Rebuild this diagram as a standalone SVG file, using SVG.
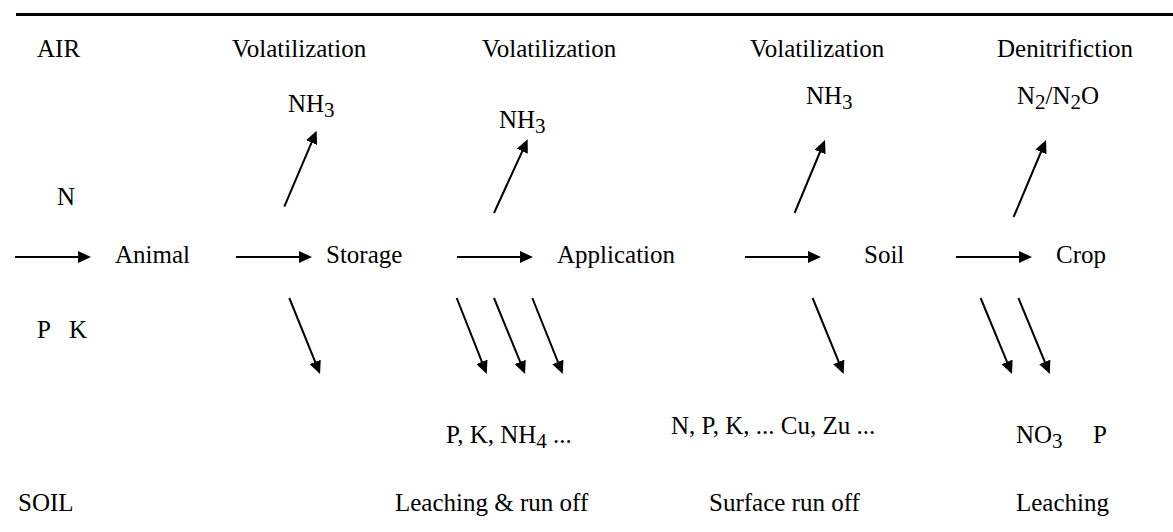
<svg xmlns="http://www.w3.org/2000/svg" width="1173" height="532" viewBox="0 0 1173 532" font-family="Liberation Serif, Tinos, Times New Roman, DejaVu Serif, serif">
<style>
text{font-family:"Liberation Serif",Tinos,"Times New Roman","DejaVu Serif",serif;font-size:25px;fill:#000}
.sub{font-size:21px}
.arr{stroke:#000;stroke-width:2;fill:none;marker-end:url(#ah)}
</style>
<defs>
<marker id="ah" viewBox="0 0 13 12" refX="7" refY="6" markerWidth="13" markerHeight="12" markerUnits="userSpaceOnUse" orient="auto">
<path d="M0,0 L13,6 L0,12 z" fill="#000"/>
</marker>
</defs>
<rect width="1173" height="532" fill="#fff"/>
<line x1="16" y1="14.5" x2="1173" y2="14.5" stroke="#000" stroke-width="3"/>
<g id="labels-top">
<text x="37" y="57">AIR</text>
<text x="232" y="57">Volatilization</text>
<text x="482" y="57">Volatilization</text>
<text x="750" y="57">Volatilization</text>
<text x="997" y="57">Denitrifiction</text>
</g>
<g id="gas-1"><text x="288" y="112">NH<tspan class="sub" dy="5">3</tspan></text></g>
<g id="gas-2"><text x="499" y="128">NH<tspan class="sub" dy="5">3</tspan></text></g>
<g id="gas-3"><text x="806" y="104">NH<tspan class="sub" dy="5">3</tspan></text></g>
<g id="gas-4"><text x="1017" y="104">N<tspan class="sub" dy="5">2</tspan><tspan dy="-5">/N</tspan><tspan class="sub" dy="5">2</tspan><tspan dy="-5">O</tspan></text></g>
<g id="input-n"><text x="57" y="205">N</text></g>
<g id="input-pk"><text x="37" y="338">P</text><text x="69" y="338">K</text></g>
<g id="node-animal"><text x="115" y="263">Animal</text></g>
<g id="node-storage"><text x="326" y="263">Storage</text></g>
<g id="node-application"><text x="557" y="263">Application</text></g>
<g id="node-soil"><text x="864" y="263">Soil</text></g>
<g id="node-crop"><text x="1056" y="263">Crop</text></g>
<g id="loss-1"><text x="446" y="443">P, K, NH<tspan class="sub" dy="5">4</tspan><tspan dy="-5"> ...</tspan></text></g>
<g id="loss-2"><text x="671" y="434">N, P, K, ... Cu, Zu ...</text></g>
<g id="loss-3"><text x="1016" y="443">NO<tspan class="sub" dy="5">3</tspan></text><text x="1093" y="443">P</text></g>
<g id="labels-bottom">
<text x="18" y="511">SOIL</text>
<text x="395" y="511">Leaching &amp; run off</text>
<text x="709" y="511">Surface run off</text>
<text x="1016" y="511">Leaching</text>
</g>
<g id="connectors">
<line class="arr" x1="15" y1="257" x2="85" y2="257"/>
<line class="arr" x1="236" y1="257" x2="306" y2="257"/>
<line class="arr" x1="457" y1="257" x2="527" y2="257"/>
<line class="arr" x1="745" y1="257" x2="815" y2="257"/>
<line class="arr" x1="956" y1="257" x2="1026" y2="257"/>
<line class="arr" x1="284.3" y1="206.7" x2="314.3" y2="136.2"/>
<line class="arr" x1="494" y1="213" x2="525.2" y2="144.8"/>
<line class="arr" x1="794.6" y1="213" x2="822.7" y2="145.5"/>
<line class="arr" x1="1013.6" y1="217" x2="1043.7" y2="145.5"/>
<line class="arr" x1="289.3" y1="298" x2="317.8" y2="368.4"/>
<line class="arr" x1="456.7" y1="298" x2="484.5" y2="368.4"/>
<line class="arr" x1="494" y1="298" x2="522.8" y2="368.4"/>
<line class="arr" x1="532.3" y1="298" x2="560.5" y2="368.4"/>
<line class="arr" x1="812.6" y1="298" x2="841.4" y2="368.4"/>
<line class="arr" x1="980.6" y1="298" x2="1009.7" y2="368.4"/>
<line class="arr" x1="1018.4" y1="298" x2="1047.5" y2="368.4"/>
</g>
</svg>
